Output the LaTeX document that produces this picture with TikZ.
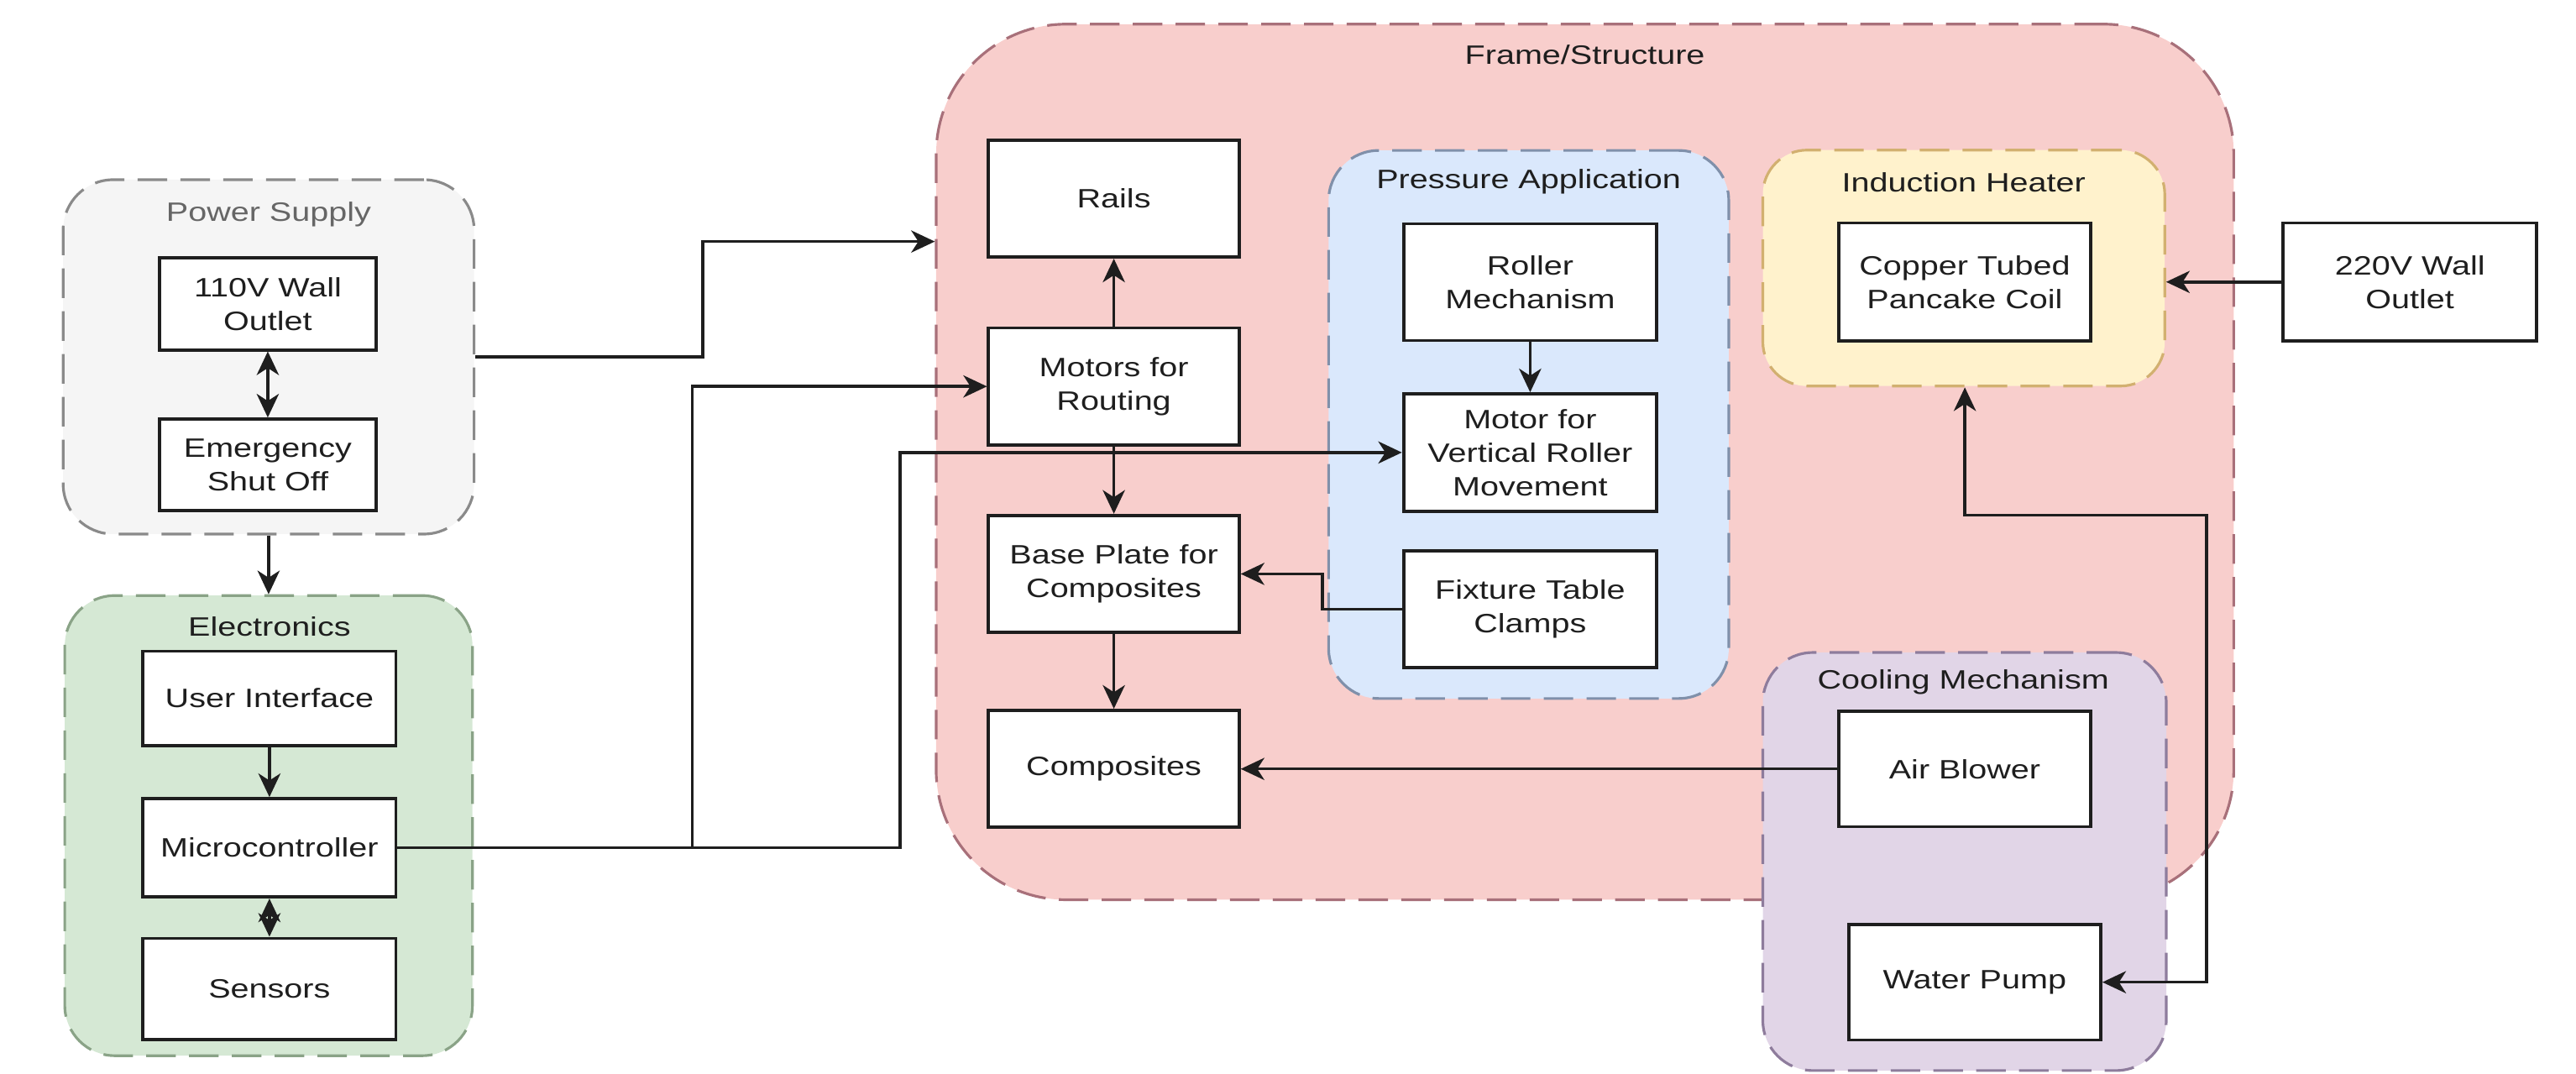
\documentclass[tikz,border=0pt]{standalone}
\usepackage{fontspec}
\setmainfont{Liberation Sans}[FakeStretch=1.25]
\usetikzlibrary{arrows.meta}
\definecolor{psfill}{HTML}{F5F5F5}
\definecolor{psdraw}{HTML}{8A8A8A}
\definecolor{elfill}{HTML}{D5E8D4}
\definecolor{eldraw}{HTML}{8AA387}
\definecolor{frfill}{HTML}{F8CECC}
\definecolor{frdraw}{HTML}{A8707A}
\definecolor{pafill}{HTML}{DAE8FC}
\definecolor{padraw}{HTML}{8090AA}
\definecolor{ihfill}{HTML}{FFF2CC}
\definecolor{ihdraw}{HTML}{D2B070}
\definecolor{cofill}{HTML}{E1D5E7}
\definecolor{codraw}{HTML}{8E7C9C}
\definecolor{txt}{HTML}{1E1E1E}
\begin{document}
\begin{tikzpicture}[x=0.019566cm, y=-0.019566cm,
  sz/.style 2 args={minimum width=#1*0.5547pt, minimum height=#2*0.5547pt},
  txtfont/.style={font=\fontsize{9}{11.4}\selectfont},
  grp/.style={line width=0.9pt, dash pattern=on 10pt off 4.5pt, rounded corners=17pt, inner sep=0pt},
  box/.style={draw=txt, line width=1.1pt, fill=white, text=txt, align=center, inner sep=0pt, txtfont},
  ttl/.style={text=txt, inner sep=0pt, txtfont},
  conn/.style={line width=1pt, draw=txt, -{Stealth[length=8pt,width=7.5pt,inset=2.4pt]}},
  biconn/.style={line width=1pt, draw=txt, {Stealth[length=8pt,width=7.5pt,inset=2.4pt]}-{Stealth[length=8pt,width=7.5pt,inset=2.4pt]}}
]
\useasboundingbox (0,0) rectangle (1568,653.2);

% groups
\node[grp, draw=psdraw, fill=psfill, sz={251}{216.4}] (psg) at (163.5,217.2) {};
\node[grp, draw=eldraw, fill=elfill, sz={249}{281}] (elg) at (163.5,502.5) {};
\node[grp, draw=frdraw, fill=frfill, sz={792.5}{534.7}, rounded corners=44pt] (frg) at (964.75,281.15) {};
\node[grp, draw=padraw, fill=pafill, sz={244.4}{334.7}] (pag) at (930.5,258.35) {};
\node[grp, draw=ihdraw, fill=ihfill, sz={245.5}{144.1}, rounded corners=15pt] (ihg) at (1195.35,163.15) {};
\node[grp, draw=codraw, fill=cofill, sz={246.4}{255.3}] (cog) at (1195.8,524.35) {};

% titles
\node[ttl, text=black!60] (pst) at (163.5,130.3) {Power Supply};
\node[ttl] (elt) at (164,381.6) {Electronics};
\node[ttl] (frt) at (964.7,33.2) {Frame/Structure};
\node[ttl] (pat) at (930.5,110.5) {Pressure Application};
\node[ttl] (iht) at (1195.3,111.2) {Induction Heater};
\node[ttl] (cot) at (1195,415.1) {Cooling Mechanism};

% boxes
\node[box, sz={132}{56}] (v110) at (163,185) {110V Wall\\Outlet};
\node[box, sz={132}{56}] (emerg) at (163,283) {Emergency\\Shut Off};
\node[box, sz={154.5}{57.5}] (ui) at (164,425) {User Interface};
\node[box, sz={154.5}{60}] (micro) at (164,516) {Microcontroller};
\node[box, sz={154.5}{62}] (sens) at (164,602) {Sensors};
\node[box, sz={153}{71.5}] (rails) at (678,120.8) {Rails};
\node[box, sz={153}{71.5}] (motors) at (678,235.2) {Motors for\\Routing};
\node[box, sz={153}{71.5}] (base) at (678,349.3) {Base Plate for\\Composites};
\node[box, sz={153}{71.5}] (comp) at (678,468) {Composites};
\node[box, sz={154.7}{71.3}] (roller) at (931.4,171.7) {Roller\\Mechanism};
\node[box, sz={154.7}{71.6}] (motorv) at (931.4,275.4) {Motor for\\Vertical Roller\\Movement};
\node[box, sz={154.7}{71.2}] (fixture) at (931.4,370.9) {Fixture Table\\Clamps};
\node[box, sz={153.7}{72}] (copper) at (1195.9,171.6) {Copper Tubed\\Pancake Coil};
\node[box, sz={155}{72}] (v220) at (1466.9,171.6) {220V Wall\\Outlet};
\node[box, sz={153.7}{70.6}] (air) at (1195.9,468) {Air Blower};
\node[box, sz={154}{70.6}] (pump) at (1202,597.8) {Water Pump};

% junction coordinates
\coordinate (j1) at (427.7,217.2);
\coordinate (j2) at (427.7,147);
\coordinate (k1) at (421.3,0);
\coordinate (k2) at (548,0);
\coordinate (k3) at (805,0);
\coordinate (k4) at (1343,313.6);
\coordinate (k5) at (1196,313.6);

% connectors
\draw[biconn] (v110) -- (emerg);
\draw[conn] (psg.south) -- (elg.north);
\draw[conn] (ui) -- (micro);
\draw[biconn] (micro) -- (sens);
\draw[conn] (psg.east) -- (j1) -- (j2) -- (frg.west |- j2);
\draw[conn] (micro.east) -| (k1 |- motors.west) -- (motors.west);
\draw[conn] (micro.east) -| (k2 |- motorv.west) -- (motorv.west);
\draw[conn] (motors) -- (rails);
\draw[conn] (motors) -- (base);
\draw[conn] (base) -- (comp);
\draw[conn] (roller) -- (motorv);
\draw[conn] (fixture.west) -| (k3 |- base.east) -- (base.east);
\draw[conn] (air.west) -- (comp.east |- air.west);
\draw[conn] (v220.west) -- (ihg.east |- v220.west);
\draw[biconn] (pump.east) -| (k4) -- (k5) -- (k5 |- ihg.south);
\end{tikzpicture}
\end{document}
